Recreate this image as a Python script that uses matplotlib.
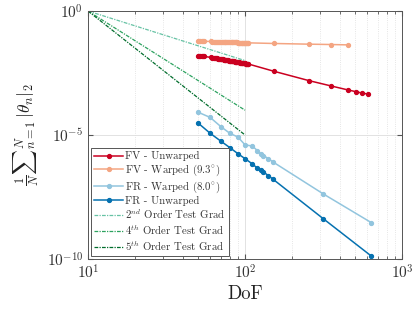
import matplotlib
matplotlib.use("Agg")
import matplotlib.pyplot as plt
from matplotlib.ticker import LogLocator, NullFormatter, NullLocator

plt.rcParams['font.family'] = ['cmr10', 'DejaVu Serif']
plt.rcParams['mathtext.fontset'] = 'cm'
plt.rcParams['axes.formatter.use_mathtext'] = True
plt.rcParams['axes.unicode_minus'] = False

# ---- data ----
fv_unw_x = [50, 51, 52, 53, 54, 55,
            61, 62, 63, 64, 65, 66, 67, 68, 69, 70, 71, 72, 73, 74, 75, 76, 77, 78, 79, 80,
            81, 82, 83, 84, 85, 86, 87, 88, 89, 90, 91, 92, 93, 94, 95, 96, 97, 98, 99, 100,
            101, 102, 103, 104, 105,
            153, 256, 353, 455, 507, 556, 603]
fv_unw_y = [0.0158, 0.0156, 0.0154, 0.0151, 0.0149, 0.0147,
            0.01340, 0.01315, 0.01292, 0.01270, 0.01248, 0.01227, 0.01206, 0.01186, 0.01167,
            0.01149, 0.01131, 0.01113, 0.01096, 0.01080, 0.01064, 0.01048, 0.01033, 0.01018,
            0.01004, 0.00989, 0.00975, 0.00962, 0.00949, 0.00936, 0.00924, 0.00912, 0.00900,
            0.00888, 0.00877, 0.00866, 0.00856, 0.00846, 0.00836, 0.00826, 0.00816, 0.00806,
            0.00797, 0.00788, 0.00779, 0.00770, 0.00762, 0.00753, 0.00745, 0.00737, 0.00729,
            0.0037, 0.00155, 0.00095, 0.00065, 0.00056, 0.00049, 0.00045]

fv_w_x = [50, 51, 52, 53, 54, 55,
          61, 62, 63, 64, 65, 66, 67, 68, 69, 70, 71, 72, 73, 74, 75, 76, 77, 78, 79, 80,
          81, 82, 83, 84, 85, 86, 87, 88, 89, 90, 91, 92, 93, 94, 95, 96, 97, 98, 99, 100,
          101, 102, 103, 104, 105,
          153, 256, 353, 455]
fv_w_y = [0.062, 0.062, 0.061, 0.061, 0.061, 0.060,
          0.0590, 0.0588, 0.0586, 0.0584, 0.0582, 0.0580, 0.0578, 0.0576, 0.0574, 0.0572,
          0.0570, 0.0568, 0.0566, 0.0564, 0.0562, 0.0560, 0.0558, 0.0556, 0.0555, 0.0553,
          0.0551, 0.0549, 0.0548, 0.0546, 0.0545, 0.0543, 0.0542, 0.0540, 0.0539, 0.0537,
          0.0536, 0.0535, 0.0533, 0.0532, 0.0531, 0.0530, 0.0528, 0.0527, 0.0526, 0.0525,
          0.0524, 0.0523, 0.0522, 0.0521, 0.0520,
          0.049, 0.046, 0.0445, 0.043]

fr_w_x = [50.5, 60, 70, 80, 90, 100, 111, 120, 126, 131, 141, 151, 315, 638]
fr_w_y = [8.2e-5, 5.1e-5, 2.2e-5, 1.17e-5, 8.3e-6, 4.0e-6, 3.6e-6, 2.35e-6, 1.71e-6,
          1.47e-6, 1.11e-6, 8.1e-7, 4.2e-8, 2.9e-9]

fr_unw_x = [50.5, 60, 70, 80, 90, 100, 111, 120, 126, 131, 141, 151, 315, 638]
fr_unw_y = [2.95e-5, 1.17e-5, 5.7e-6, 3.1e-6, 1.77e-6, 1.11e-6, 6.9e-7, 4.55e-7, 3.8e-7,
            3.2e-7, 2.3e-7, 1.63e-7, 4.2e-9, 1.3e-10]

grad_x = [10, 100]
grad2_y = [1.0, 1e-2]
grad4_y = [1.0, 1e-4]
grad5_y = [1.0, 1e-5]

labels = ['FV - Unwarped', r'FV - Warped $(9.3^{\circ})$', r'FR - Warped $(8.0^{\circ})$',
          'FR - Unwarped', r'$2^{nd}$ Order Test Grad', r'$4^{th}$ Order Test Grad',
          r'$5^{th}$ Order Test Grad']

c_red = '#ca0020'
c_orange = '#f4a582'
c_lblue = '#92c5de'
c_dblue = '#0571b0'
c_g2 = '#66c2a4'
c_g4 = '#2ca25f'
c_g5 = '#006d2c'

fig = plt.figure(figsize=(4.15, 3.10), dpi=100)
ax = fig.add_axes([0.212, 0.1645, 0.757, 0.80])

kw = dict(marker='o', markersize=2.8, linewidth=1.1)
ax.plot(fv_unw_x, fv_unw_y, color=c_red, label=labels[0], **kw)
ax.plot(fv_w_x, fv_w_y, color=c_orange, label=labels[1], **kw)
ax.plot(fr_w_x, fr_w_y, color=c_lblue, label=labels[2], **kw)
ax.plot(fr_unw_x, fr_unw_y, color=c_dblue, label=labels[3], **kw)
ls = (0, (3, 1, 1, 1))
ax.plot(grad_x, grad2_y, color=c_g2, linestyle=ls, linewidth=0.9, label=labels[4])
ax.plot(grad_x, grad4_y, color=c_g4, linestyle=ls, linewidth=0.9, label=labels[5])
ax.plot(grad_x, grad5_y, color=c_g5, linestyle=ls, linewidth=0.9, label=labels[6])

ax.set_xscale('log')
ax.set_yscale('log')
ax.set_xlim(10, 1000)
ax.set_ylim(1e-10, 1)
ax.set_yticks([1e-10, 1e-5, 1])
ax.yaxis.set_minor_locator(NullLocator())
ax.xaxis.set_minor_locator(LogLocator(base=10, subs=range(2, 10)))
ax.xaxis.set_minor_formatter(NullFormatter())

ax.grid(True, which='major', color='#dddddd', linewidth=0.6)
ax.grid(True, which='minor', axis='x', color='#dddddd', linewidth=0.6, linestyle=':')
ax.set_axisbelow(True)

for s in ax.spines.values():
    s.set_color('#555555')
    s.set_linewidth(0.7)
ax.tick_params(which='both', direction='in', top=True, right=True, colors='#555555',
               labelcolor='#333333', labelsize=11)
ax.tick_params(which='major', length=3.5)
ax.tick_params(which='minor', length=2)

ax.set_xlabel('DoF', fontsize=13.5, color='#222222', labelpad=2)
ax.set_ylabel(r'$\frac{1}{N}{\sum}_{n=1}^{N}\,|\theta_n|_2$', fontsize=12.5, color='#222222',
              labelpad=4)

leg = ax.legend(loc='lower left', fontsize=7.8, numpoints=1, handlelength=2.6,
                handletextpad=0.2, labelspacing=0.12, borderpad=0.3, borderaxespad=0.3,
                fancybox=False, framealpha=1, edgecolor='#555555')
leg.get_frame().set_linewidth(0.7)
for t in leg.get_texts():
    t.set_color('#333333')

fig.savefig('out.png', dpi=100)
